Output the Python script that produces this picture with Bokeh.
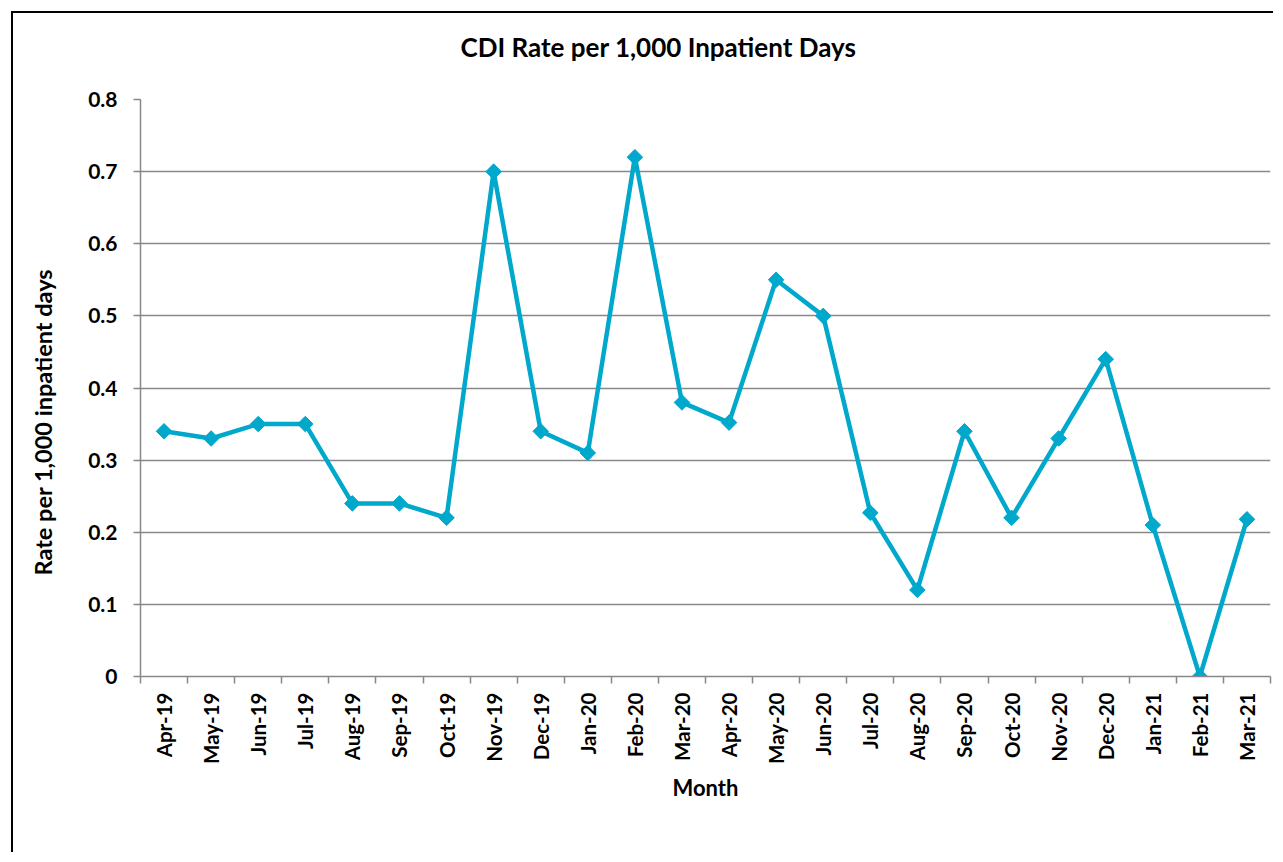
import numpy as np
from bokeh.plotting import figure
from bokeh.models import FixedTicker, Range1d, Title, ColumnDataSource
from bokeh.embed import file_html
from bokeh.resources import INLINE

months = ["Apr-19", "May-19", "Jun-19", "Jul-19", "Aug-19", "Sep-19", "Oct-19",
          "Nov-19", "Dec-19", "Jan-20", "Feb-20", "Mar-20", "Apr-20", "May-20",
          "Jun-20", "Jul-20", "Aug-20", "Sep-20", "Oct-20", "Nov-20", "Dec-20",
          "Jan-21", "Feb-21", "Mar-21"]
rates = [0.34, 0.33, 0.35, 0.35, 0.24, 0.24, 0.22, 0.70, 0.34, 0.31, 0.72, 0.38,
         0.352, 0.55, 0.50, 0.227, 0.12, 0.34, 0.22, 0.33, 0.44, 0.21, 0.0, 0.218]
y_ticks = [0, 0.1, 0.2, 0.3, 0.4, 0.5, 0.6, 0.7, 0.8]
y_tick_labels = ["0", "0.1", "0.2", "0.3", "0.4", "0.5", "0.6", "0.7", "0.8"]

FONT = "Lato"
GRAY = "#888888"
CYAN = "#00A8CC"

xpos = [i + 0.5 for i in range(len(months))]
src = ColumnDataSource(dict(x=xpos, y=rates, m=months))

p = figure(width=1262, height=841, output_backend="svg", toolbar_location=None,
           x_range=Range1d(0, len(months)), y_range=Range1d(0, 0.8),
           min_border_left=127, min_border_right=5, min_border_top=86,
           min_border_bottom=178)
p.styles = {"margin-left": "11px", "margin-top": "11px",
            "border-left": "2px solid black", "border-top": "2px solid black"}
p.outline_line_color = None
p.background_fill_color = "white"
p.border_fill_color = "white"

# spacer between frame and title (above)
p.add_layout(Title(text=" ", text_font_size="1px", standoff=19), "above")
# title
p.title = Title(text="CDI Rate per 1,000 Inpatient Days", align="left", offset=320,
                standoff=29, text_font=FONT, text_font_style="bold",
                text_font_size="26px", text_color="black")

# spacer between y axis and its label, then the y-axis label as a left title
p.add_layout(Title(text=" ", text_font_size="1px", standoff=13), "left")
p.add_layout(Title(text="Rate per 1,000 inpatient days", align="left", offset=101,
                   standoff=26, text_font=FONT, text_font_style="bold",
                   text_font_size="23.5px", text_color="black"), "left")

p.line("x", "y", source=src, line_color=CYAN, line_width=4.5)
p.scatter("x", "y", source=src, marker="square", angle=np.pi / 4, size=11,
          fill_color=CYAN, line_color=CYAN)

# x axis
xa = p.xaxis[0]
xa.ticker = FixedTicker(ticks=xpos, minor_ticks=list(range(len(months) + 1)))
xa.major_label_overrides = {x: m for x, m in zip(xpos, months)}
xa.major_label_orientation = np.pi / 2
xa.major_tick_out = 0
xa.major_tick_in = 0
xa.minor_tick_out = 7
xa.minor_tick_in = 0
xa.minor_tick_line_color = GRAY
xa.minor_tick_line_width = 1.5
xa.axis_line_color = GRAY
xa.axis_line_width = 1.5
xa.major_label_standoff = 9
xa.major_label_text_font = FONT
xa.major_label_text_font_style = "bold"
xa.major_label_text_font_size = "20.5px"
xa.major_label_text_color = "black"
xa.axis_label = "Month"
xa.axis_label_text_font = FONT
xa.axis_label_text_font_style = "bold"
xa.axis_label_text_font_size = "22px"
xa.axis_label_text_color = "black"
xa.axis_label_standoff = 7

# y axis
ya = p.yaxis[0]
ya.ticker = FixedTicker(ticks=y_ticks)
ya.major_label_overrides = {t: l for t, l in zip(y_ticks, y_tick_labels)}
ya.major_tick_out = 7
ya.major_tick_in = 0
ya.minor_tick_out = 0
ya.minor_tick_in = 0
ya.major_tick_line_color = GRAY
ya.major_tick_line_width = 1.5
ya.axis_line_color = GRAY
ya.axis_line_width = 1.5
ya.major_label_standoff = 16
ya.major_label_text_font = FONT
ya.major_label_text_font_style = "bold"
ya.major_label_text_font_size = "21px"
ya.major_label_text_color = "black"

p.xgrid.grid_line_color = None
p.ygrid.ticker = FixedTicker(ticks=y_ticks)
p.ygrid.grid_line_color = GRAY
p.ygrid.grid_line_width = 1.5

open("out.html", "w").write(file_html(p, INLINE))
